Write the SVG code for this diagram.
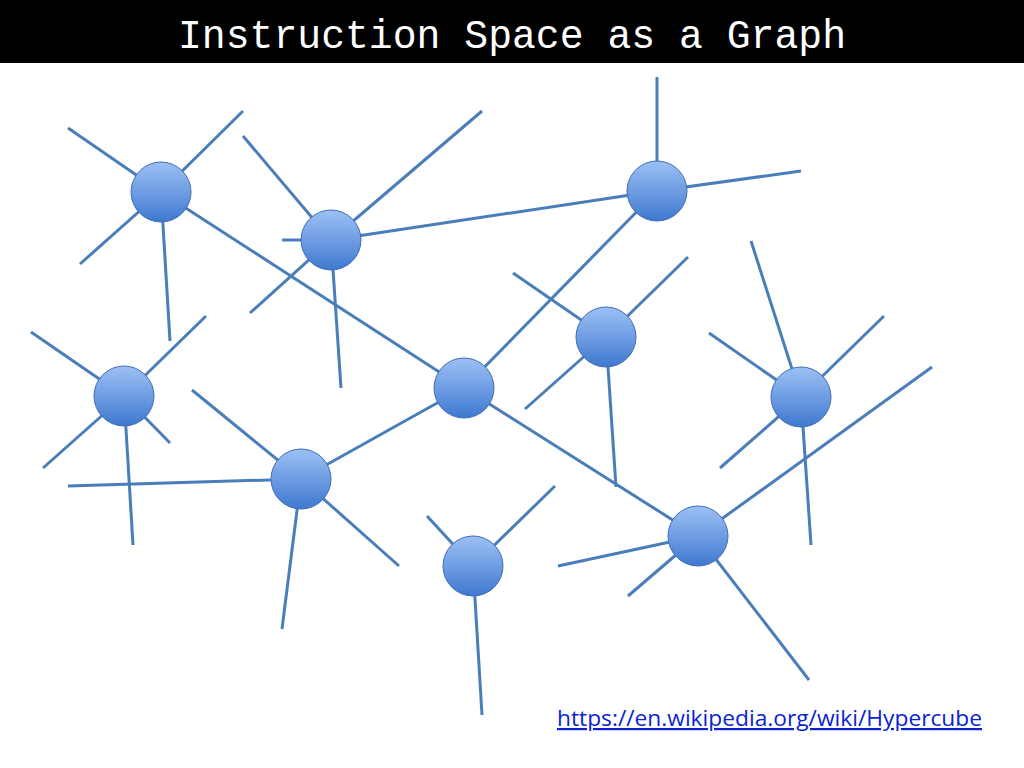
<svg xmlns="http://www.w3.org/2000/svg" width="1024" height="768" viewBox="0 0 1024 768">
<defs>
<linearGradient id="ng" x1="0" y1="0" x2="0" y2="1">
<stop offset="0" stop-color="#9cc0f4"/>
<stop offset="0.5" stop-color="#6f9de3"/>
<stop offset="1" stop-color="#3e78cf"/>
</linearGradient>
<style>
.e{stroke:#4a7ebb;stroke-width:3;stroke-linecap:butt;fill:none}
.n{fill:url(#ng);stroke:#3f6eb3;stroke-width:1}
.t{font-family:"Liberation Mono","DejaVu Sans Mono",monospace;font-size:41px;fill:#ffffff}
.u{font-family:"Open Sans","Liberation Sans",sans-serif;font-size:22px;fill:#0b1fd4;text-decoration:underline}
</style>
</defs>
<rect x="0" y="0" width="1024" height="768" fill="#ffffff"/>
<g id="title">
<rect x="0" y="0" width="1024" height="63" fill="#000000"/>
<text class="t" x="178" y="48" textLength="668" lengthAdjust="spacingAndGlyphs">Instruction Space as a Graph</text>
</g>
<g id="connectors">
<line class="e" x1="68" y1="128" x2="161" y2="192"/>
<line class="e" x1="243" y1="111" x2="161" y2="192"/>
<line class="e" x1="80" y1="264" x2="161" y2="192"/>
<line class="e" x1="170" y1="341" x2="161" y2="192"/>
<line class="e" x1="161" y1="192" x2="464" y2="388"/>
<line class="e" x1="243" y1="136" x2="331" y2="240"/>
<line class="e" x1="482" y1="111" x2="331" y2="240"/>
<line class="e" x1="282" y1="240" x2="331" y2="240"/>
<line class="e" x1="250" y1="313" x2="331" y2="240"/>
<line class="e" x1="341" y1="388" x2="331" y2="240"/>
<line class="e" x1="331" y1="240" x2="657" y2="191"/>
<line class="e" x1="657" y1="77" x2="657" y2="191"/>
<line class="e" x1="801" y1="171" x2="657" y2="191"/>
<line class="e" x1="657" y1="191" x2="464" y2="388"/>
<line class="e" x1="513" y1="273" x2="606" y2="337"/>
<line class="e" x1="688" y1="257" x2="606" y2="337"/>
<line class="e" x1="525" y1="409" x2="606" y2="337"/>
<line class="e" x1="616" y1="487" x2="606" y2="337"/>
<line class="e" x1="464" y1="388" x2="301" y2="479"/>
<line class="e" x1="464" y1="388" x2="698" y2="536"/>
<line class="e" x1="31" y1="332" x2="124" y2="396"/>
<line class="e" x1="206" y1="316" x2="124" y2="396"/>
<line class="e" x1="43" y1="468" x2="124" y2="396"/>
<line class="e" x1="170" y1="443" x2="124" y2="396"/>
<line class="e" x1="133" y1="545" x2="124" y2="396"/>
<line class="e" x1="751" y1="241" x2="801" y2="397"/>
<line class="e" x1="884" y1="316" x2="801" y2="397"/>
<line class="e" x1="709" y1="333" x2="801" y2="397"/>
<line class="e" x1="720" y1="468" x2="801" y2="397"/>
<line class="e" x1="811" y1="545" x2="801" y2="397"/>
<line class="e" x1="192" y1="390" x2="301" y2="479"/>
<line class="e" x1="68" y1="486" x2="301" y2="479"/>
<line class="e" x1="282" y1="629" x2="301" y2="479"/>
<line class="e" x1="399" y1="566" x2="301" y2="479"/>
<line class="e" x1="427" y1="516" x2="473" y2="566"/>
<line class="e" x1="555" y1="486" x2="473" y2="566"/>
<line class="e" x1="482" y1="715" x2="473" y2="566"/>
<line class="e" x1="932" y1="367" x2="698" y2="536"/>
<line class="e" x1="558" y1="566" x2="698" y2="536"/>
<line class="e" x1="628" y1="596" x2="698" y2="536"/>
<line class="e" x1="809" y1="680" x2="698" y2="536"/>
</g>
<g id="nodeA"><circle class="n" cx="161" cy="192" r="30"/></g>
<g id="nodeB"><circle class="n" cx="331" cy="240" r="30"/></g>
<g id="nodeC"><circle class="n" cx="657" cy="191" r="30"/></g>
<g id="nodeD"><circle class="n" cx="606" cy="337" r="30"/></g>
<g id="nodeE"><circle class="n" cx="464" cy="388" r="30"/></g>
<g id="nodeF"><circle class="n" cx="124" cy="396" r="30"/></g>
<g id="nodeG"><circle class="n" cx="801" cy="397" r="30"/></g>
<g id="nodeH"><circle class="n" cx="301" cy="479" r="30"/></g>
<g id="nodeI"><circle class="n" cx="473" cy="566" r="30"/></g>
<g id="nodeJ"><circle class="n" cx="698" cy="536" r="30"/></g>
<g id="link">
<text class="u" x="557" y="726" textLength="425" lengthAdjust="spacingAndGlyphs">https://en.wikipedia.org/wiki/Hypercube</text>
</g>
</svg>
